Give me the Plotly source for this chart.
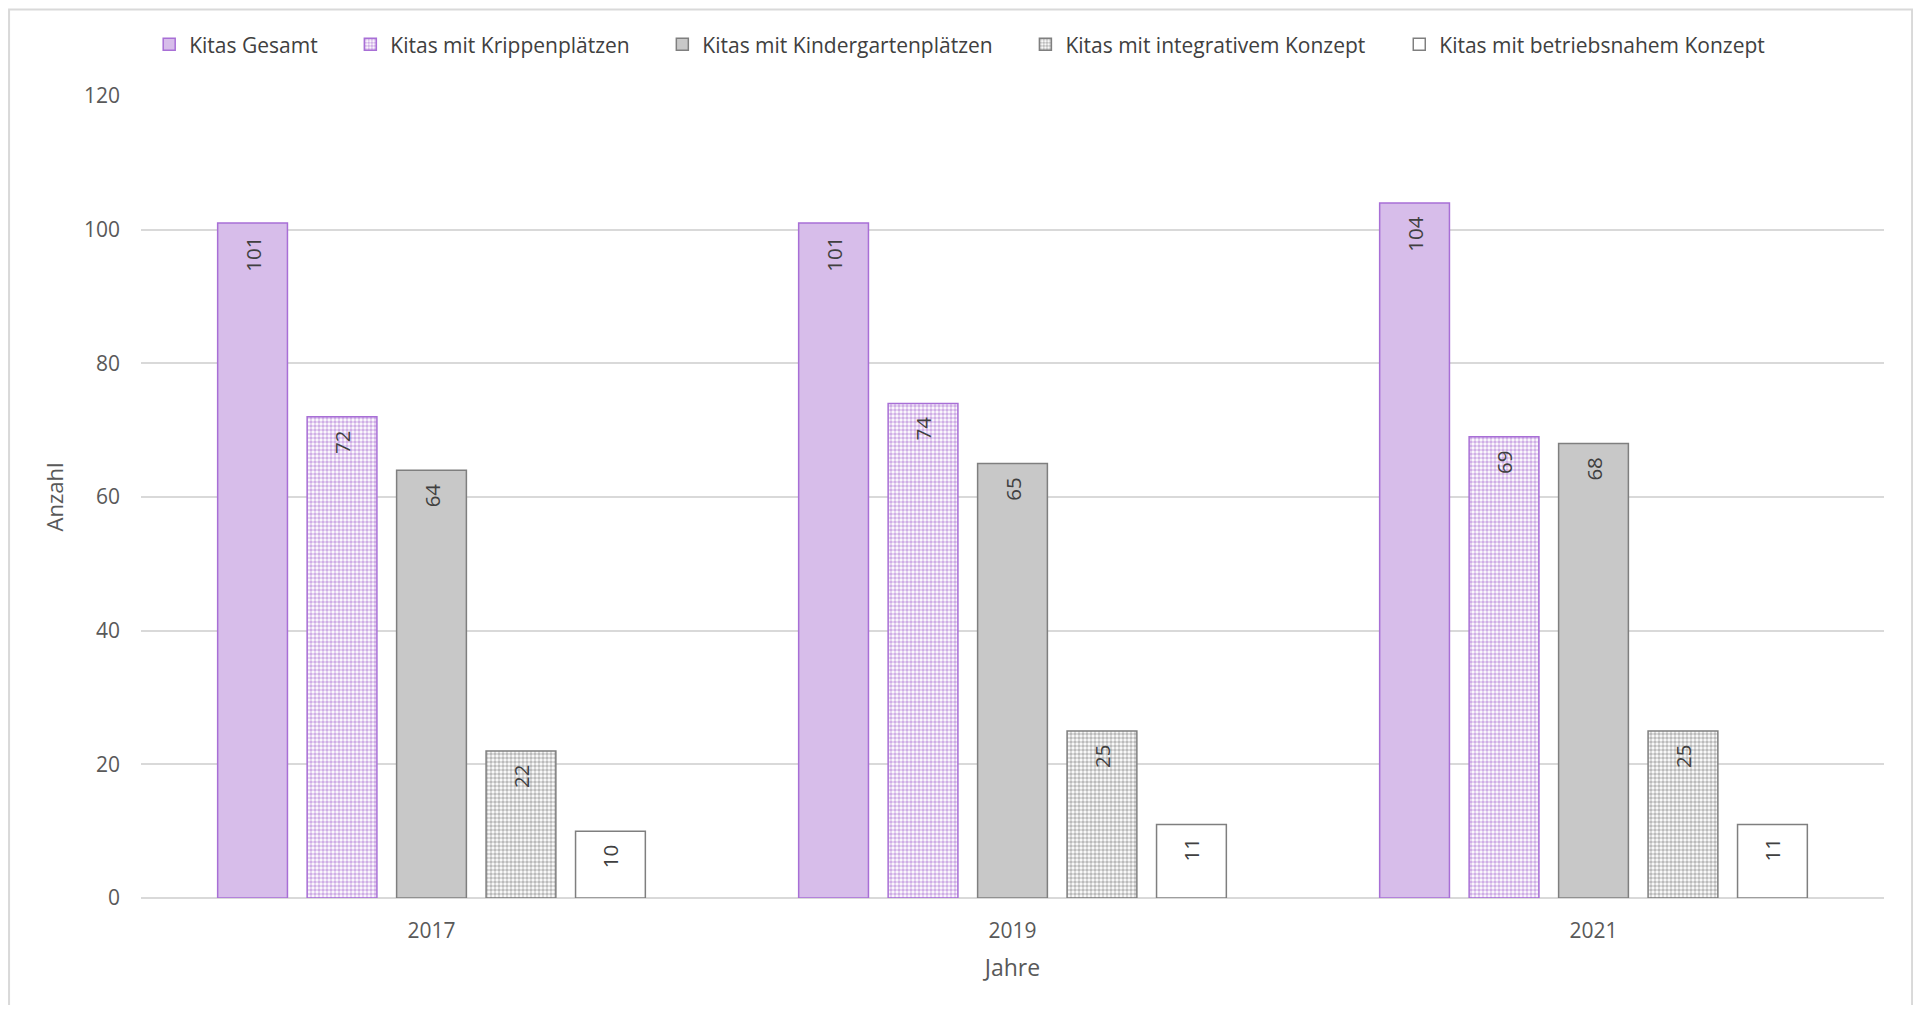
import plotly.graph_objects as go

years = ["2017", "2019", "2021"]
series_names = [
    "Kitas Gesamt",
    "Kitas mit Krippenplätzen",
    "Kitas mit Kindergartenplätzen",
    "Kitas mit integrativem Konzept",
    "Kitas mit betriebsnahem Konzept",
]
gesamt = [101, 101, 104]
krippe = [72, 74, 69]
kindergarten = [64, 65, 68]
integrativ = [22, 25, 25]
betriebsnah = [10, 11, 11]
y_ticks = [0, 20, 40, 60, 80, 100, 120]

PURPLE_FILL = "#D7BDEA"
PURPLE_LINE = "#A86FD6"
GRAY_FILL = "#C8C8C8"
GRAY_LINE = "#7F7F7F"
FONT = "Open Sans"

styles = [
    dict(marker=dict(color=PURPLE_FILL, line=dict(color=PURPLE_LINE, width=1.5))),
    dict(marker=dict(color="white", line=dict(color=PURPLE_LINE, width=1.5),
                     pattern=dict(shape=".", fgcolor="#CFAEE6", bgcolor="white",
                                  size=4, solidity=0.6, fillmode="replace"))),
    dict(marker=dict(color=GRAY_FILL, line=dict(color=GRAY_LINE, width=1.5))),
    dict(marker=dict(color="white", line=dict(color=GRAY_LINE, width=1.5),
                     pattern=dict(shape=".", fgcolor="#BBBBBB", bgcolor="white",
                                  size=4, solidity=0.6, fillmode="replace"))),
    dict(marker=dict(color="white", line=dict(color=GRAY_LINE, width=1.5))),
]
values = [gesamt, krippe, kindergarten, integrativ, betriebsnah]
legend_ids = ["legend", "legend2", "legend3", "legend4", "legend5"]
legend_x = [0.0047, 0.1201, 0.2991, 0.5074, 0.7219]

fig = go.Figure()
for name, vals, st, lid in zip(series_names, values, styles, legend_ids):
    fig.add_trace(go.Bar(
        x=years, y=vals, name=name, legend=lid, showlegend=True,
        text=[str(v) + "\u00a0\u00a0" for v in vals],
        textposition="inside", insidetextanchor="end", textangle=-90,
        insidetextfont=dict(family=FONT, size=20.5, color="#404040"),
        constraintext="none",
        **st,
    ))

legend_layout = {}
for lid, lx in zip(legend_ids, legend_x):
    legend_layout[lid] = dict(orientation="h", x=lx, y=1.064, xanchor="left", yanchor="middle",
                              font=dict(family=FONT, size=21, color="#404040"),
                              itemwidth=30, bgcolor="rgba(0,0,0,0)", visible=True)

fig.update_layout(
    showlegend=True,
    barmode="group", bargap=0.23, bargroupgap=0.22,
    width=1905, height=997,
    margin=dict(l=133, r=29, t=87.5, b=107),
    paper_bgcolor="white", plot_bgcolor="white",
    font=dict(family=FONT, color="#595959"),
    xaxis=dict(title=dict(text="Jahre", font=dict(size=23, color="#595959"), standoff=16),
               tickfont=dict(size=21, color="#595959"), showgrid=False,
               showline=False, zeroline=False, ticks="", ticklabelstandoff=18),
    yaxis=dict(title=dict(text="Anzahl", font=dict(size=22, color="#595959"), standoff=14),
               range=[0, 120], tickvals=y_ticks, ticktext=[str(t) for t in y_ticks],
               tickfont=dict(size=21, color="#595959"), showgrid=True,
               gridcolor="#D9D9D9", gridwidth=1.5, zeroline=True, zerolinecolor="#D9D9D9",
               zerolinewidth=1.5, ticklabelstandoff=20, showline=False),
    shapes=[dict(type="rect", xref="paper", yref="paper",
                 x0=-0.0757, x1=1.0161, y0=-0.2, y1=1.1078,
                 line=dict(color="#D9D9D9", width=2), fillcolor="rgba(0,0,0,0)", layer="below")],
    **legend_layout,
)

fig.write_html("out.html")
